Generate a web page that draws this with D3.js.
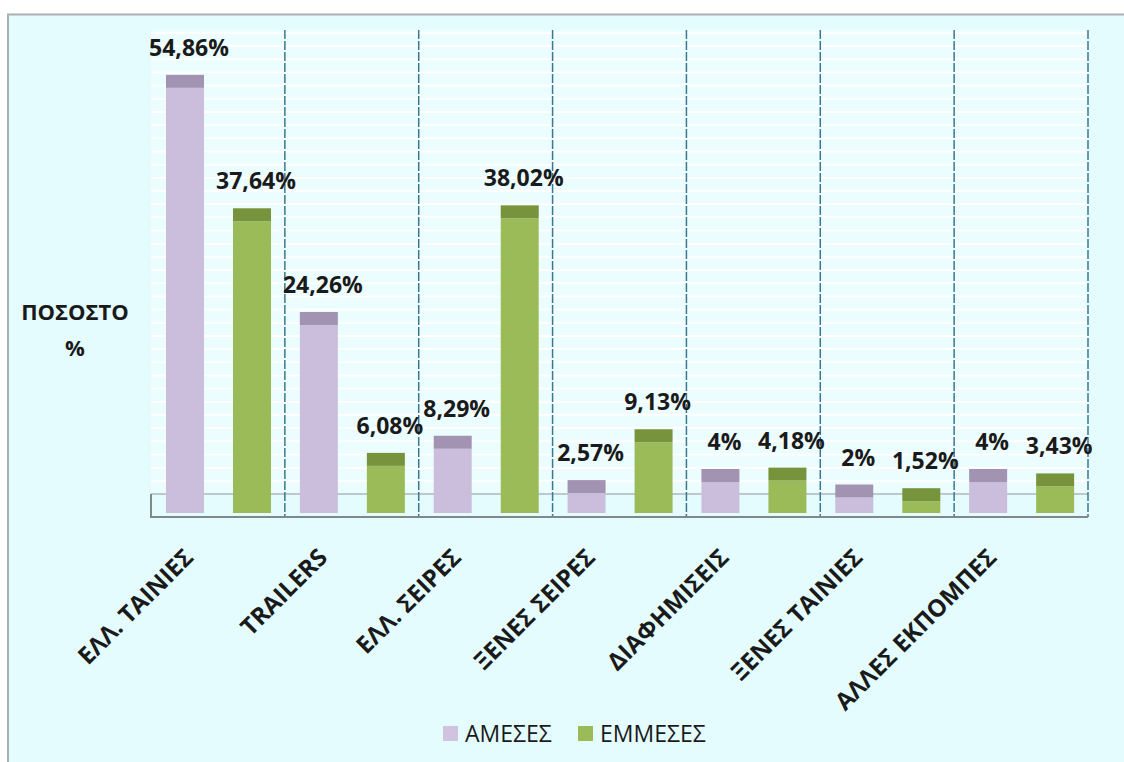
<!DOCTYPE html>
<html>
<head>
<meta charset="utf-8">
<script src="https://cdn.jsdelivr.net/npm/d3@7"></script>
<style>
  html, body { margin: 0; padding: 0; background: #ffffff; }
  svg { display: block; }
</style>
</head>
<body>
<div id="chart"></div>
<script>
// data
var categories = ["ΕΛΛ. ΤΑΙΝΙΕΣ", "TRAILERS", "ΕΛΛ. ΣΕΙΡΕΣ", "ΞΕΝΕΣ ΣΕΙΡΕΣ", "ΔΙΑΦΗΜΙΣΕΙΣ", "ΞΕΝΕΣ ΤΑΙΝΙΕΣ", "ΑΛΛΕΣ ΕΚΠΟΜΠΕΣ"];
var seriesNames = ["ΑΜΕΣΕΣ", "ΕΜΜΕΣΕΣ"];
var direct = [54.86, 24.26, 8.29, 2.57, 4, 2, 4];
var indirect = [37.64, 6.08, 38.02, 9.13, 4.18, 1.52, 3.43];
var yTitle = ["ΠΟΣΟΣΤΟ", "%"];

var width = 1124, height = 762;
var plot = { left: 151, right: 1088, top: 30, bottom: 513, axis: 517, floorBack: 494 };
var capH = 13;
var fronts = ["#cbbedc", "#9bbb59"];
var caps = ["#a393b3", "#77933c"];
var legendCols = ["#d1c3df", "#9bbb59"];

var rows = categories.map(function(c, i) {
    return { cat: c, values: [direct[i], indirect[i]] };
});

function fmt(v) { return String(v).replace(".", ",") + "%"; }

var svg = d3.select("#chart").append("svg")
    .attr("width", width)
    .attr("height", height);

// background and outer border
svg.append("rect")
    .attr("x", 8).attr("y", 14.5)
    .attr("width", width).attr("height", height)
    .attr("fill", "#e4fcfe")
    .attr("stroke", "#a9b0b2")
    .attr("stroke-width", 2);

// scales
var x0 = d3.scaleBand()
    .domain(categories)
    .range([plot.left, plot.right])
    .padding(0);

var x1 = d3.scaleBand()
    .domain(seriesNames)
    .range([15, 120])
    .paddingInner(0.433)
    .paddingOuter(0);

var y = d3.scaleLinear()
    .domain([0, (plot.bottom - plot.top) / 7.75])
    .range([plot.bottom, plot.top]);

// plot wall
svg.append("rect")
    .attr("x", plot.left).attr("y", plot.top)
    .attr("width", plot.right - plot.left)
    .attr("height", plot.floorBack - plot.top)
    .attr("fill", "#ebfdff");

// white gridlines on the back wall
var wallBase = y.invert(plot.floorBack);
svg.append("g")
    .selectAll("line")
    .data(d3.range(wallBase + 1.7, y.domain()[1], 1.7))
    .enter().append("line")
    .attr("x1", plot.left).attr("x2", plot.right)
    .attr("y1", function(d) { return y(d); })
    .attr("y2", function(d) { return y(d); })
    .attr("stroke", "#ffffff")
    .attr("stroke-width", 2);

// floor back edge
svg.append("line")
    .attr("x1", plot.left).attr("x2", plot.right)
    .attr("y1", plot.floorBack).attr("y2", plot.floorBack)
    .attr("stroke", "#bcc8cc")
    .attr("stroke-width", 2);

// category dividers
svg.append("g")
    .selectAll("line")
    .data(categories)
    .enter().append("line")
    .attr("x1", function(d) { return x0(d) + x0.bandwidth(); })
    .attr("x2", function(d) { return x0(d) + x0.bandwidth(); })
    .attr("y1", plot.top)
    .attr("y2", plot.axis)
    .attr("stroke", "#3b7890")
    .attr("stroke-width", 1.5)
    .attr("stroke-dasharray", "9,2");

// axis lines
svg.append("path")
    .attr("d", "M" + plot.left + "," + plot.floorBack + "V" + plot.axis + "H" + plot.right)
    .attr("fill", "none")
    .attr("stroke", "#7f898c")
    .attr("stroke-width", 2);

// bars
var groups = svg.append("g")
    .selectAll("g")
    .data(rows)
    .enter().append("g")
    .attr("transform", function(d) { return "translate(" + x0(d.cat) + ",0)"; });

var bars = groups.selectAll("g")
    .data(function(d) {
        return d.values.map(function(v, k) { return { s: seriesNames[k], k: k, v: v }; });
    })
    .enter().append("g");

bars.append("rect")
    .attr("x", function(d) { return x1(d.s); })
    .attr("width", x1.bandwidth())
    .attr("y", function(d) { return y(d.v); })
    .attr("height", function(d) { return y(0) - y(d.v); })
    .attr("fill", function(d) { return fronts[d.k]; });

bars.append("rect")
    .attr("x", function(d) { return x1(d.s); })
    .attr("width", x1.bandwidth())
    .attr("y", function(d) { return y(d.v) - capH; })
    .attr("height", capH)
    .attr("fill", function(d) { return caps[d.k]; });

bars.append("text")
    .attr("x", function(d) { return x1(d.s) + x1.bandwidth() / 2 + 4; })
    .attr("y", function(d) { return y(d.v) - capH - 19; })
    .attr("text-anchor", "middle")
    .attr("font-family", "'Open Sans', sans-serif")
    .attr("font-weight", 700)
    .attr("font-size", 23)
    .attr("fill", "#1a1a1a")
    .text(function(d) { return fmt(d.v); });

// category labels
svg.append("g")
    .selectAll("text")
    .data(categories)
    .enter().append("text")
    .attr("transform", function(d) {
        return "translate(" + (x0(d) + x0.bandwidth() / 2 - 29) + ",553) rotate(-45)";
    })
    .attr("text-anchor", "end")
    .attr("dy", "0.35em")
    .attr("font-family", "'Open Sans', sans-serif")
    .attr("font-weight", 700)
    .attr("font-size", 24)
    .attr("fill", "#1a1a1a")
    .text(function(d) { return d; });

// y title
svg.append("g")
    .selectAll("text")
    .data(yTitle)
    .enter().append("text")
    .attr("x", 75)
    .attr("y", function(d, i) { return 312 + i * 36; })
    .attr("dy", "0.35em")
    .attr("text-anchor", "middle")
    .attr("font-family", "'Open Sans', sans-serif")
    .attr("font-weight", 700)
    .attr("font-size", 22)
    .attr("fill", "#1a1a1a")
    .text(function(d) { return d; });

// legend
var legendX = [443, 578];
var leg = svg.append("g")
    .selectAll("g")
    .data(seriesNames)
    .enter().append("g")
    .attr("transform", function(d, i) { return "translate(" + legendX[i] + ",726)"; });

leg.append("rect")
    .attr("width", 15).attr("height", 15)
    .attr("fill", function(d, i) { return legendCols[i]; });

leg.append("text")
    .attr("x", 22)
    .attr("y", 8)
    .attr("dy", "0.35em")
    .attr("font-family", "'Open Sans', sans-serif")
    .attr("font-size", 23)
    .attr("fill", "#1a1a1a")
    .text(function(d) { return d; });
</script>
</body>
</html>
